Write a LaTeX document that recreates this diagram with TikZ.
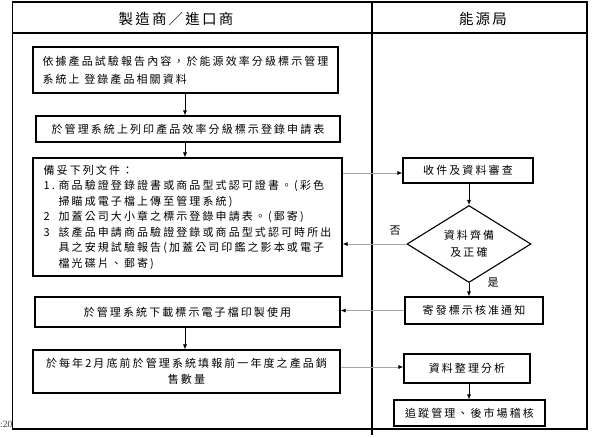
\documentclass[tikz,border=0pt]{standalone}
\usepackage{fontspec}
\setmainfont{Liberation Serif}
\newfontfamily\cjk[LetterSpace=19]{Noto Sans CJK TC}
\newfontfamily\cjkhead[LetterSpace=15]{Noto Sans CJK TC}
\newcommand\myBody{\cjk\fontsize{11}{15.5}\selectfont}
\newcommand\myHead{\cjkhead\fontsize{14.5}{16}\selectfont}
\usetikzlibrary{arrows.meta,shapes.geometric}
\begin{document}
\begin{tikzpicture}[x=1pt,y=-1pt,
  frame/.style={draw=black,line width=1.1pt},
  box/.style={draw=black,line width=1.1pt,inner sep=0pt,font=\myBody},
  arr/.style={draw=black,line width=0.7pt,-{Latex[length=5pt,width=4pt]}},
  garr/.style={draw=gray!70,line width=0.8pt,-{Latex[length=5pt,width=4pt,color=black]}},
  lbl/.style={font=\myBody,inner sep=0pt}]
\useasboundingbox (0,0) rectangle (595,437);
% frame
\draw[frame] (12.5,2) rectangle (587,429);
\draw[frame] (12.5,33) -- (587,33);
\draw[frame] (372,2) -- (372,435);
\node[font=\myHead,inner sep=0pt] (h1) at (176,18.5) {製造商／進口商};
\node[font=\myHead,inner sep=0pt] (h2) at (483,18.5) {能源局};
% left column
\node[box,minimum width=305pt,minimum height=46pt,align=left] (b1) at (185.5,70)
  {依據產品試驗報告內容，於能源效率分級標示管理\\[2.5pt]系統上 登錄產品相關資料};
\node[box,minimum width=304pt,minimum height=26pt] (b2) at (188,129)
  {於管理系統上列印產品效率分級標示登錄申請表};
\node[box,minimum width=309pt,minimum height=118pt,align=left] (b3) at (187.5,217)
  {備妥下列文件：\\
   \makebox[15pt][l]{1.}商品驗證登錄證書或商品型式認可證書。(彩色\\
   \hspace*{15pt}掃瞄成電子檔上傳至管理系統)\\
   \makebox[15pt][l]{2}加蓋公司大小章之標示登錄申請表。(郵寄)\\
   \makebox[15pt][l]{3}該產品申請商品驗證登錄或商品型式認可時所出\\
   \hspace*{15pt}具之安規試驗報告(加蓋公司印鑑之影本或電子\\
   \hspace*{15pt}檔光碟片、郵寄)};
\node[box,minimum width=305pt,minimum height=30pt] (b4) at (187.5,312)
  {於管理系統下載標示電子檔印製使用};
\node[box,minimum width=307pt,minimum height=43pt,align=center] (b5) at (186.5,371.5)
  {於每年2月底前於管理系統填報前一年度之產品銷\\[0.5pt]售數量};
% right column
\node[box,minimum width=130pt,minimum height=25pt] (r1) at (468,170.5) {收件及資料審查};
\node[box,diamond,shape aspect=1.6,minimum width=124pt,minimum height=77pt,align=center] (d1) at (469,244)
  {資料齊備\\[1.5pt]及正確};
\node[box,minimum width=138pt,minimum height=27pt] (r2) at (474,310.5) {寄發標示核准通知};
\node[box,minimum width=126pt,minimum height=29pt] (r3) at (467,368.5) {資料整理分析};
\node[box,minimum width=151pt,minimum height=26pt] (r4) at (469.5,413) {追蹤管理、後市場稽核};
\node[lbl] (no) at (395,231) {否};
\node[lbl] (yes) at (493,283) {是};
\node[font=\fontsize{9.5}{10}\selectfont,text=black!80,inner sep=0pt,anchor=east] (pg) at (12.5,424) {:20};
% arrows
\draw[arr] (185,93) coordinate (c1) -- (c1 |- b2.north);
\draw[arr] (185,142) coordinate (c2) -- (c2 |- b3.north);
\draw[arr] (185,327) coordinate (c3) -- (c3 |- b5.north);
\draw[arr] (r1.south -| d1.north) -- (d1.north);
\draw[arr] (d1.south) -- (d1.south |- r2.north);
\draw[arr] (r3.south -| 469,0) coordinate (c4) -- (c4 |- r4.north);
\draw[garr] (b3.east |- 0,173) coordinate (c5) -- (c5 -| r1.west);
\draw[garr] (d1.west) -- (d1.west -| b3.east);
\draw[garr] (r2.west) -- (r2.west -| b4.east);
\draw[garr] (b5.east |- 0,367) coordinate (c6) -- (c6 -| r3.west);
\end{tikzpicture}
\end{document}
